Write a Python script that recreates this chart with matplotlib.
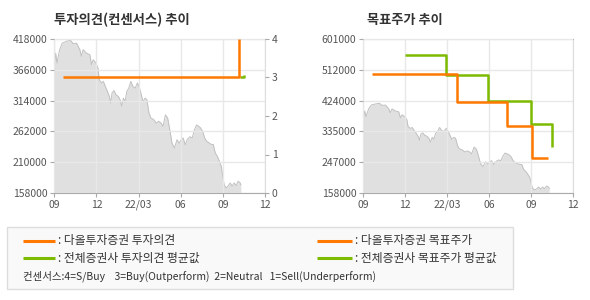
import matplotlib
matplotlib.use("Agg")
import matplotlib.pyplot as plt
from matplotlib.patches import Rectangle
from matplotlib.lines import Line2D

plt.rcParams['font.family'] = ['Noto Sans CJK KR', 'DejaVu Sans']

# x in months since 2021-09-01
x_ticks = [0, 3, 6, 9, 12, 15]
x_labels = ["09", "12", "22/03", "06", "09", "12"]

price_x = [0, 0.10, 0.19, 0.38, 0.57, 0.86, 1.15, 1.34, 1.58, 1.82, 1.93, 2.05, 2.29, 2.53,
           2.65, 2.77, 2.96, 3.11, 3.20, 3.37, 3.49, 3.73, 3.92, 4.01, 4.11, 4.25, 4.39, 4.56,
           4.68, 4.80, 4.92, 5.04, 5.16, 5.30, 5.45, 5.59, 5.76, 5.92, 6.07, 6.16, 6.31, 6.47,
           6.59, 6.74, 6.88, 7.07, 7.26, 7.43, 7.60, 7.74, 7.91, 8.07, 8.22, 8.38, 8.55, 8.74,
           8.89, 9.03, 9.17, 9.32, 9.46, 9.65, 9.82, 9.98, 10.13, 10.29, 10.41, 10.56, 10.70,
           10.84, 11.01, 11.18, 11.32, 11.46, 11.61, 11.75, 11.89, 11.99, 12.09, 12.23, 12.37,
           12.52, 12.66, 12.80, 12.95, 13.09, 13.23, 13.28]
price_y = [371800, 394000, 377500, 400000, 411000, 414000, 416000, 410000, 411000, 400000,
           389000, 400000, 394000, 391500, 374700, 383000, 377500, 369000, 349000, 343700,
           346500, 332500, 321000, 310000, 327000, 331000, 324000, 321000, 315600, 304300,
           318000, 312500, 329500, 335000, 346500, 338000, 335000, 344000, 335000, 327000,
           312500, 318000, 315600, 293000, 284600, 282000, 276000, 279000, 276000, 270500,
           290000, 284600, 265000, 242000, 234000, 248000, 242000, 248000, 251000, 239500,
           248000, 253000, 251000, 265000, 273000, 270500, 268000, 262000, 251000, 245600,
           242800, 240000, 240000, 225500, 220000, 211700, 203000, 186000, 172000, 166700,
           169500, 175000, 169500, 175000, 170600, 178000, 175000, 172000]

# investment opinion (consensus scale 0-4)
op_daol_x = [0.64, 13.13]
op_daol_y = [3, 4]
op_avg_x = [13.23, 13.47]
op_avg_y = [3.0, 3.06]

# target price
tp_daol_x = [0.64, 6.69, 10.26, 12.03, 13.17]
tp_daol_y = [500000, 420000, 350000, 260000, 260000]
tp_avg_x = [3.0, 5.91, 8.89, 11.98, 13.48]
tp_avg_y = [556000, 497000, 424000, 356000, 289000]

left_yticks = [158000, 210000, 262000, 314000, 366000, 418000]
right_yticks = [158000, 247000, 335000, 424000, 512000, 601000]
op_ticks = [0, 1, 2, 3, 4]

ORANGE = "#ff7800"
GREEN = "#7dba00"
TXT = "#555555"
GRID = "#e8e8e8"

fig = plt.figure(figsize=(5.9, 3.0), dpi=100)


def style_axes(ax, yticks):
    ax.set_xlim(0, 15)
    ax.set_ylim(yticks[0], yticks[-1])
    ax.set_xticks(x_ticks)
    ax.set_xticklabels(x_labels)
    ax.set_yticks(yticks)
    ax.set_yticklabels([str(v) for v in yticks])
    ax.set_facecolor("white")
    ax.grid(True, color=GRID, linewidth=1.0)
    ax.set_axisbelow(False)
    ax.tick_params(axis='both', colors="#aaaaaa", labelcolor=TXT, labelsize=7.5,
                   length=3, width=0.8, pad=2)
    for s in ['left', 'bottom']:
        ax.spines[s].set_color("#aaaaaa")
    ax.spines['top'].set_color("#bbbbbb")
    ax.spines['right'].set_color("#dddddd")
    ax.fill_between(price_x, price_y, yticks[0], color="#e0e0e0", linewidth=0, zorder=1)
    ax.plot(price_x, price_y, color="#c0c0c0", linewidth=0.7, zorder=1.2)


# left chart
ax1 = fig.add_axes([54.3 / 590, 1 - 193 / 300, 210.7 / 590, 154 / 300])
style_axes(ax1, left_yticks)
ax1b = ax1.twinx()
ax1b.set_ylim(0, 4)
ax1b.set_yticks(op_ticks)
ax1b.set_yticklabels([str(v) for v in op_ticks])
ax1b.tick_params(axis='y', colors="#aaaaaa", labelcolor=TXT, labelsize=7.5, length=3,
                 width=0.8, pad=2)
for s in ax1b.spines.values():
    s.set_visible(False)
ax1b.plot(op_avg_x, op_avg_y, drawstyle='steps-post', color=GREEN, linewidth=1.8,
          solid_capstyle='butt', zorder=3, clip_on=False)
ax1b.plot(op_daol_x, op_daol_y, drawstyle='steps-post', color=ORANGE, linewidth=1.8,
          solid_capstyle='butt', zorder=4, clip_on=False)
fig.text(54.3 / 590, 1 - 20 / 300, "투자의견(컨센서스) 추이", fontsize=9.6, fontweight='bold',
         color="#333333", va='center', ha='left')

# right chart
ax2 = fig.add_axes([363.3 / 590, 1 - 193 / 300, 210 / 590, 154 / 300])
style_axes(ax2, right_yticks)
ax2.plot(tp_avg_x, tp_avg_y, drawstyle='steps-post', color=GREEN, linewidth=1.8,
         solid_capstyle='butt', zorder=3)
ax2.plot(tp_daol_x, tp_daol_y, drawstyle='steps-post', color=ORANGE, linewidth=1.8,
         solid_capstyle='butt', zorder=4)
fig.text(366.7 / 590, 1 - 20 / 300, "목표주가 추이", fontsize=9.5, fontweight='bold',
         color="#333333", va='center', ha='left')

# legend box
W, H = 590.0, 300.0
fig.patches.append(Rectangle((7.3 / W, 1 - 289.3 / H), (513.3 - 7.3) / W, (289.3 - 227.3) / H,
                             transform=fig.transFigure, facecolor="#f9f9f9",
                             edgecolor="#dddddd", linewidth=1.0))


def legend_item(x0, x1, y, color, label):
    fig.add_artist(Line2D([x0 / W, x1 / W], [1 - y / H, 1 - y / H], color=color,
                          linewidth=2.2, transform=fig.transFigure, solid_capstyle='butt'))
    fig.text((x1 + 3) / W, 1 - y / H, ": " + label, fontsize=8.5, color="#333333",
             va='center', ha='left')


legend_item(22.7, 55, 240.7, ORANGE, "다올투자증권 투자의견")
legend_item(22.7, 55, 258.3, GREEN, "전체증권사 투자의견 평균값")
legend_item(316.7, 351.7, 240.7, ORANGE, "다올투자증권 목표주가")
legend_item(316.7, 351.7, 258.3, GREEN, "전체증권사 목표주가 평균값")
fig.text(23.3 / W, 1 - 276.7 / H,
         "컨센서스:4=S/Buy    3=Buy(Outperform)  2=Neutral   1=Sell(Underperform)",
         fontsize=7.5, color="#333333", va='center', ha='left')

fig.savefig("out.png", dpi=100, facecolor="white")
